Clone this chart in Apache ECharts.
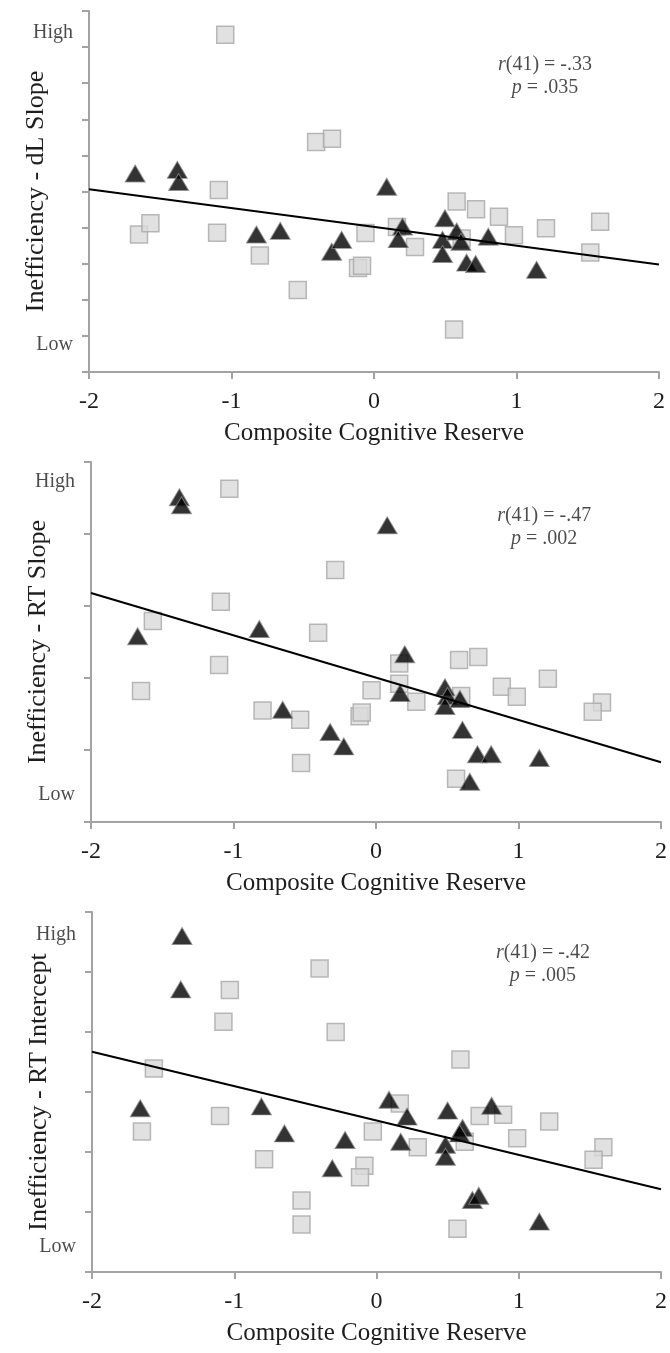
<!DOCTYPE html>
<html>
<head>
<meta charset="utf-8">
<script src="https://cdn.jsdelivr.net/npm/echarts@6/dist/echarts.min.js"></script>
<style>
  html, body { margin: 0; padding: 0; background: #fff; }
  #chart { width: 670px; height: 1353px; }
</style>
</head>
<body>
<div id="chart"></div>
<script>
// ---------- Data ----------
const xTickLabels = ['-2', '-1', '0', '1', '2'];
const xAxisTitle = 'Composite Cognitive Reserve';
const yAxisTitles = ['Inefficiency - dL Slope', 'Inefficiency - RT Slope', 'Inefficiency - RT Intercept'];
const yMaxes = [10, 5, 6];
const highLabelY = [9.39, 4.72, 5.62];
const lowLabelY = [0.75, 0.38, 0.42];
const statR = ['-.33', '-.47', '-.42'];
const statP = ['.035', '.002', '.005'];
const statPosX = [1.2, 1.18, 1.17];
const statPosY = [8.2, 4.1, 5.13];
const trendStart = [5.06, 3.18, 3.67];   // fitted value at x = -2
const trendEnd = [2.98, 0.83, 1.38];     // fitted value at x = 2

// Panel 1: dL Slope
const p1SqX = [-1.044, -0.406, -0.295, -1.089, -1.649, -1.569, -1.101, -0.801, -0.535, -0.112, -0.084, -0.06, 0.161, 0.288, 0.58, 0.716, 0.877, 0.982, 1.207, 1.587, 1.518, 0.562, 0.615];
const p1SqY = [9.34, 6.37, 6.46, 5.04, 3.81, 4.12, 3.86, 3.23, 2.27, 2.88, 2.94, 3.85, 4.02, 3.46, 4.72, 4.51, 4.30, 3.79, 3.98, 4.16, 3.31, 1.18, 3.70];
const p1TriX = [-1.676, -1.38, -1.371, 0.089, -0.825, -0.658, -0.297, -0.227, 0.200, 0.170, 0.498, 0.481, 0.481, 0.580, 0.610, 0.650, 0.713, 0.802, 1.141];
const p1TriY = [5.50, 5.60, 5.26, 5.13, 3.81, 3.91, 3.33, 3.66, 4.03, 3.68, 4.26, 3.66, 3.27, 3.89, 3.61, 3.03, 2.99, 3.75, 2.83];

// Panel 2: RT Slope
const p2SqX = [-1.029, -0.286, -1.089, -1.566, -0.406, -1.101, -1.649, 0.163, 0.583, 0.718, 0.163, -0.031, 0.283, 0.598, 0.883, 0.988, 1.206, 1.586, 1.521, -0.796, -0.532, -0.115, -0.1, -0.526, 0.562];
const p2SqY = [4.63, 3.50, 3.06, 2.79, 2.63, 2.18, 1.82, 2.20, 2.25, 2.29, 1.92, 1.83, 1.67, 1.75, 1.88, 1.74, 1.99, 1.66, 1.53, 1.55, 1.42, 1.47, 1.52, 0.82, 0.60];
const p2TriX = [-1.380, -1.365, 0.079, -1.673, -0.819, 0.202, 0.169, -0.655, -0.322, -0.226, 0.484, 0.502, 0.484, 0.589, 0.607, 0.712, 0.808, 1.146, 0.658];
const p2TriY = [4.51, 4.40, 4.12, 2.58, 2.68, 2.33, 1.79, 1.56, 1.25, 1.05, 1.87, 1.75, 1.61, 1.71, 1.28, 0.94, 0.94, 0.89, 0.56];

// Panel 3: RT Intercept
const p3SqX = [-0.400, -1.031, -1.076, -0.287, -1.565, 0.590, -1.100, -1.649, 0.164, -0.026, 0.290, 0.620, 0.725, 0.890, 1.214, 0.989, 1.595, 1.526, -0.790, -0.085, -0.116, -0.527, -0.527, 0.569];
const p3SqY = [5.06, 4.70, 4.17, 4.00, 3.39, 3.54, 2.60, 2.34, 2.81, 2.34, 2.08, 2.17, 2.60, 2.62, 2.51, 2.23, 2.08, 1.87, 1.88, 1.77, 1.58, 1.19, 0.79, 0.72];
const p3TriX = [-1.367, -1.376, -1.661, -0.809, -0.647, -0.221, -0.311, 0.088, 0.215, 0.170, 0.500, 0.485, 0.485, 0.605, 0.584, 0.809, 0.674, 0.719, 1.145];
const p3TriY = [5.60, 4.71, 2.73, 2.76, 2.31, 2.20, 1.73, 2.87, 2.59, 2.17, 2.69, 2.12, 1.92, 2.40, 2.31, 2.77, 1.20, 1.27, 0.84];

const squaresX = [p1SqX, p2SqX, p3SqX];
const squaresY = [p1SqY, p2SqY, p3SqY];
const trianglesX = [p1TriX, p2TriX, p3TriX];
const trianglesY = [p1TriY, p2TriY, p3TriY];

// ---------- Styling / layout ----------
const FONT = '"Liberation Serif", "Times New Roman", Times, serif';
const TEXT = '#1e1e1e';
const AXIS = '#a3a3a3';
const grids = [
  { left: 89, top: 11, width: 570, height: 361 },
  { left: 91, top: 462, width: 570, height: 360 },
  { left: 92, top: 912, width: 570, height: 360 }
];

const zip = (xs, ys) => xs.map((x, i) => [x, ys[i]]);

const xAxes = [], yAxes = [], series = [];
for (let i = 0; i < 3; i++) {
  xAxes.push({
    gridIndex: i, type: 'value', min: -2, max: 2, interval: 1,
    name: xAxisTitle, nameLocation: 'middle', nameGap: 49,
    nameTextStyle: { fontFamily: FONT, fontSize: 25, color: TEXT },
    axisLine: { show: true, onZero: false, lineStyle: { color: AXIS, width: 2 } },
    axisTick: { show: true, length: 7, lineStyle: { color: AXIS, width: 2 } },
    axisLabel: {
      fontFamily: FONT, fontSize: 24, color: TEXT, margin: 18,
      formatter: v => xTickLabels[Math.round(v + 2)]
    },
    splitLine: { show: false }
  });
  yAxes.push({
    gridIndex: i, type: 'value', min: 0, max: yMaxes[i], interval: 1,
    name: yAxisTitles[i], nameLocation: 'middle', nameGap: 40, nameRotate: 90,
    nameTextStyle: { fontFamily: FONT, fontSize: 26, color: TEXT },
    axisLine: { show: true, onZero: false, lineStyle: { color: AXIS, width: 2 } },
    axisTick: { show: true, length: 7, lineStyle: { color: AXIS, width: 2 } },
    axisLabel: { show: false },
    splitLine: { show: false }
  });
  series.push({
    type: 'scatter', xAxisIndex: i, yAxisIndex: i, z: 2,
    symbol: 'rect', symbolSize: 17,
    itemStyle: { color: '#d9d9d9', borderColor: '#a8a8a8', borderWidth: 1.5 },
    data: zip(squaresX[i], squaresY[i])
  });
  series.push({
    type: 'scatter', xAxisIndex: i, yAxisIndex: i, z: 3,
    symbol: 'triangle', symbolSize: [20, 17],
    itemStyle: { color: '#000', borderColor: '#8a8a8a', borderWidth: 1 },
    data: zip(trianglesX[i], trianglesY[i])
  });
  series.push({
    type: 'line', xAxisIndex: i, yAxisIndex: i, z: 4,
    symbol: 'none', lineStyle: { color: '#000', width: 2 },
    data: [[-2, trendStart[i]], [2, trendEnd[i]]]
  });
  series.push({
    type: 'scatter', xAxisIndex: i, yAxisIndex: i, z: 5, clip: false,
    symbolSize: 0,
    label: {
      show: true, position: 'left', distance: 16,
      fontFamily: FONT, fontSize: 20, color: TEXT,
      formatter: p => p.name
    },
    data: [
      { name: 'High', value: [-2, highLabelY[i]] },
      { name: 'Low', value: [-2, lowLabelY[i]] }
    ]
  });
  series.push({
    type: 'scatter', xAxisIndex: i, yAxisIndex: i, z: 5, clip: false,
    symbolSize: 0,
    label: {
      show: true, position: 'inside', align: 'center', verticalAlign: 'middle',
      fontFamily: FONT, fontSize: 20, color: TEXT, lineHeight: 23,
      formatter: () => '{i|r}(41) = ' + statR[i] + '\n{i|p} = ' + statP[i],
      rich: {
        i: { fontFamily: FONT, fontSize: 20, fontStyle: 'italic', color: TEXT, lineHeight: 23 }
      }
    },
    data: [[statPosX[i], statPosY[i]]]
  });
}

const chart = echarts.init(document.getElementById('chart'), null, { renderer: 'canvas' });
chart.setOption({
  animation: false,
  backgroundColor: '#fff',
  grid: grids,
  xAxis: xAxes,
  yAxis: yAxes,
  series: series
});
</script>
</body>
</html>
